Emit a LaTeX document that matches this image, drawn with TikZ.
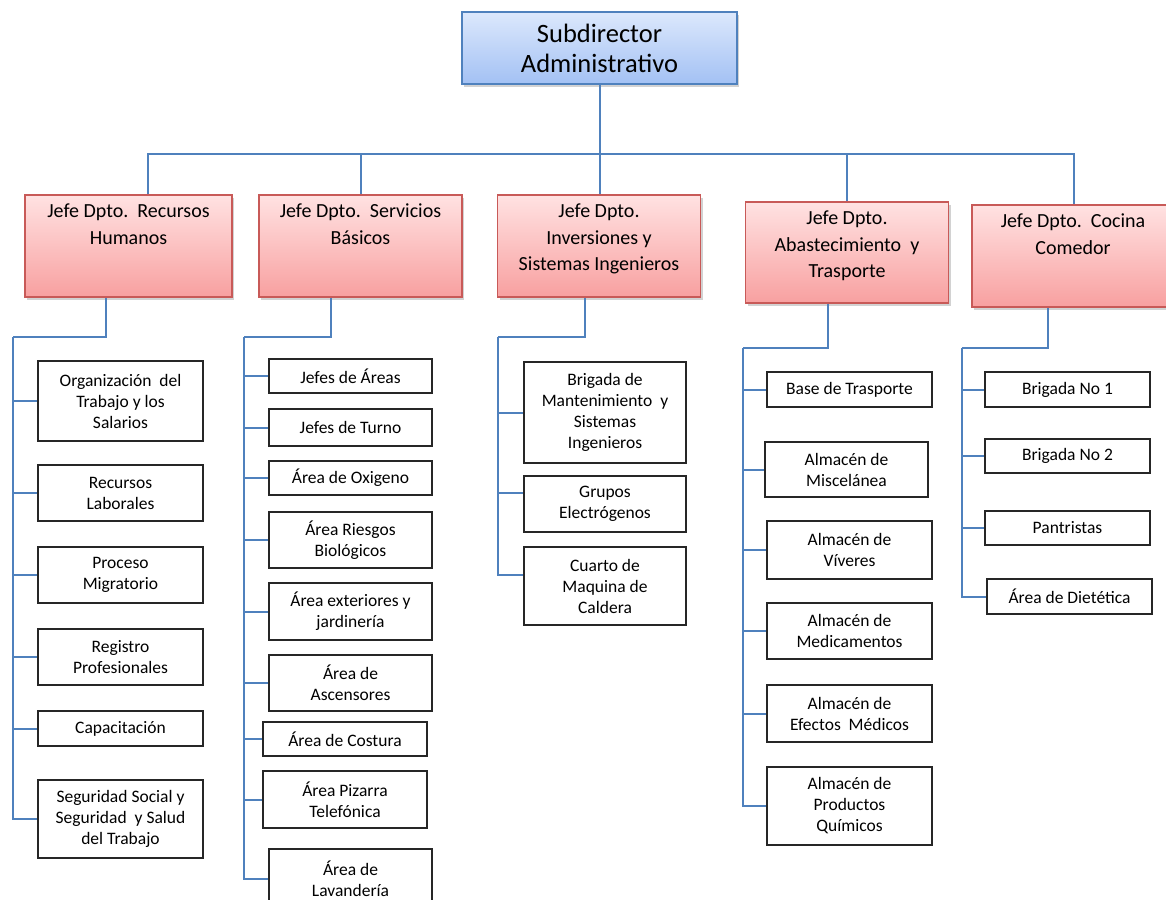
\documentclass[tikz,border=0pt]{standalone}
\usepackage{fontspec}
\setmainfont{Carlito}
\usetikzlibrary{shadows}
\definecolor{connC}{HTML}{4F81BD}
\definecolor{topT}{HTML}{DCE8FC}
\definecolor{topB}{HTML}{A3C1F4}
\definecolor{redT}{HTML}{FFE2E2}
\definecolor{redB}{HTML}{F8A0A0}
\definecolor{redL}{HTML}{C85A58}
\newcommand\rtxt[2]{\parbox[c][#1pt][t]{200pt}{\centering\vspace*{9pt}#2}}
\begin{document}
\begin{tikzpicture}[x=1pt,y=-1pt,
  conn/.style={draw=connC, line width=2pt},
  topbox/.style={draw=connC, line width=1.6pt, top color=topT, bottom color=topB,
    align=center, inner sep=0pt, font=\fontsize{26.5}{30}\selectfont,
    drop shadow={shadow xshift=2pt, shadow yshift=-3pt, opacity=0.35}},
  rbox/.style={draw=redL, line width=1.6pt, top color=redT, bottom color=redB,
    inner sep=0pt, font=\fontsize{20}{26.5}\selectfont,
    drop shadow={shadow xshift=2pt, shadow yshift=-3pt, opacity=0.35}},
  sbox/.style={draw=black!85, line width=1.8pt, fill=white, align=center,
    inner sep=0pt, font=\fontsize{17.5}{21}\selectfont,
    drop shadow={shadow xshift=1.2pt, shadow yshift=-1.2pt, opacity=0.25}},
]
\path[use as bounding box, clip] (0,0) rectangle (1166,899);
\fill[white] (0,0) rectangle (1166,899);

% top
\node[topbox, minimum width=275pt, minimum height=72pt] (top) at (599.5,48) {Subdirector\\Administrativo};

% department heads
\node[rbox, minimum width=207pt, minimum height=102pt] (r1) at (128.5,246) {\rtxt{102}{Jefe Dpto.\ \ Recursos\\Humanos}};
\node[rbox, minimum width=203pt, minimum height=102pt] (r2) at (360.5,246) {\rtxt{102}{Jefe Dpto.\ \ Servicios\\Básicos}};
\node[rbox, minimum width=203pt, minimum height=102pt] (r3) at (599,246) {\rtxt{102}{Jefe Dpto.\\Inversiones y\\Sistemas Ingenieros}};
\node[rbox, minimum width=203pt, minimum height=101pt] (r4) at (847,252.5) {\rtxt{101}{Jefe Dpto.\\Abastecimiento\ \ y\\Trasporte}};
\node[rbox, minimum width=202pt, minimum height=102pt] (r5) at (1073,256) {\rtxt{102}{Jefe Dpto.\ \ Cocina\\Comedor}};

% bus
\coordinate (bus) at (600,154);
\draw[conn] (top.south) -- (top.south |- r3.north);
\draw[conn] ([xshift=19pt]r1.north) |- (bus) -| ([xshift=1pt]r5.north);
\draw[conn] (r2.north) -- (r2.north |- bus);
\draw[conn] (r4.north) -- (r4.north |- bus);

% column 1
\node[sbox, minimum width=165pt, minimum height=80pt] (a1) at (120.5,401) {Organización\ \ del\\Trabajo y los\\Salarios};
\node[sbox, minimum width=165pt, minimum height=56pt] (a2) at (120.5,493) {Recursos\\Laborales};
\node[sbox, minimum width=165pt, minimum height=56pt] (a3) at (120.5,575) {Proceso\\Migratorio};
\node[sbox, minimum width=165pt, minimum height=56pt] (a4) at (120.5,657) {Registro\\Profesionales};
\node[sbox, minimum width=165pt, minimum height=35pt] (a5) at (120.5,728.5) {Capacitación};
\node[sbox, minimum width=165pt, minimum height=78pt] (a6) at (120.5,819) {Seguridad Social y\\Seguridad\ \ y Salud\\del Trabajo};
\coordinate (ka) at (13,337);
\draw[conn] ([xshift=-23pt]r1.south) |- (ka);
\foreach \n in {a1,a2,a3,a4,a5,a6} \draw[conn] (ka) |- (\n.west);

% column 2
\node[sbox, minimum width=163pt, minimum height=34pt] (b1) at (350.5,376) {Jefes de Áreas};
\node[sbox, minimum width=163pt, minimum height=37pt] (b2) at (350.5,427.5) {Jefes de Turno};
\node[sbox, minimum width=163pt, minimum height=34pt] (b3) at (350.5,478) {Área de Oxigeno};
\node[sbox, minimum width=163pt, minimum height=56pt] (b4) at (350.5,540) {Área Riesgos\\Biológicos};
\node[sbox, minimum width=163pt, minimum height=57pt] (b5) at (350.5,611.5) {Área exteriores y\\jardinería};
\node[sbox, minimum width=163pt, minimum height=56pt] (b6) at (350.5,683) {Área de\\Ascensores};
\node[sbox, minimum width=164pt, minimum height=34pt] (b7) at (345,739) {Área de Costura};
\node[sbox, minimum width=164pt, minimum height=57pt] (b8) at (345,799.5) {Área Pizarra\\Telefónica};
\node[sbox, minimum width=163pt, minimum height=60pt] (b9) at (350.5,879) {Área de\\Lavandería};
\coordinate (kb) at (244,337);
\draw[conn] ([xshift=-30pt]r2.south) |- (kb);
\foreach \n in {b1,b2,b3,b4,b5,b6,b7,b8,b9} \draw[conn] (kb) |- (\n.west);

% column 3
\node[sbox, minimum width=162pt, minimum height=101pt] (c1) at (605,412.5) {Brigada de\\Mantenimiento\ \ y\\Sistemas\\Ingenieros};
\node[sbox, minimum width=162pt, minimum height=56pt] (c2) at (605,504) {Grupos\\Electrógenos};
\node[sbox, minimum width=162pt, minimum height=78pt] (c3) at (605,586) {Cuarto de\\Maquina de\\Caldera};
\coordinate (kc) at (498,337);
\draw[conn] ([xshift=-14pt]r3.south) |- (kc);
\draw[conn] (kc) |- (c1.west);
\draw[conn] (kc) |- ([yshift=11pt]c2.west);
\draw[conn] (kc) |- ([yshift=11pt]c3.west);

% column 4
\node[sbox, minimum width=165pt, minimum height=35pt] (d1) at (849.5,389.5) {Base de Trasporte};
\node[sbox, minimum width=163pt, minimum height=55pt] (d2) at (846.5,469.5) {Almacén de\\Miscelánea};
\node[sbox, minimum width=165pt, minimum height=58pt] (d3) at (849.5,550) {Almacén de\\Víveres};
\node[sbox, minimum width=165pt, minimum height=56pt] (d4) at (849.5,631) {Almacén de\\Medicamentos};
\node[sbox, minimum width=165pt, minimum height=57pt] (d5) at (849.5,713.5) {Almacén de\\Efectos\ \ Médicos};
\node[sbox, minimum width=165pt, minimum height=78pt] (d6) at (849.5,806) {Almacén de\\Productos\\Químicos};
\coordinate (kd) at (743,348);
\draw[conn] ([xshift=-19pt]r4.south) |- (kd);
\foreach \n in {d1,d2,d3,d4,d5,d6} \draw[conn] (kd) |- (\n.west);

% column 5
\node[sbox, minimum width=165pt, minimum height=35pt] (e1) at (1067.5,389.5) {Brigada No 1};
\node[sbox, minimum width=165pt, minimum height=34pt] (e2) at (1067.5,456) {Brigada No 2};
\node[sbox, minimum width=165pt, minimum height=34pt] (e3) at (1067.5,528) {Pantristas};
\node[sbox, minimum width=165pt, minimum height=35pt] (e4) at (1069.5,596.5) {Área de Dietética};
\coordinate (ke) at (962,348);
\draw[conn] ([xshift=-25pt]r5.south) |- (ke);
\foreach \n in {e1,e2,e3,e4} \draw[conn] (ke) |- (\n.west);
\end{tikzpicture}
\end{document}
